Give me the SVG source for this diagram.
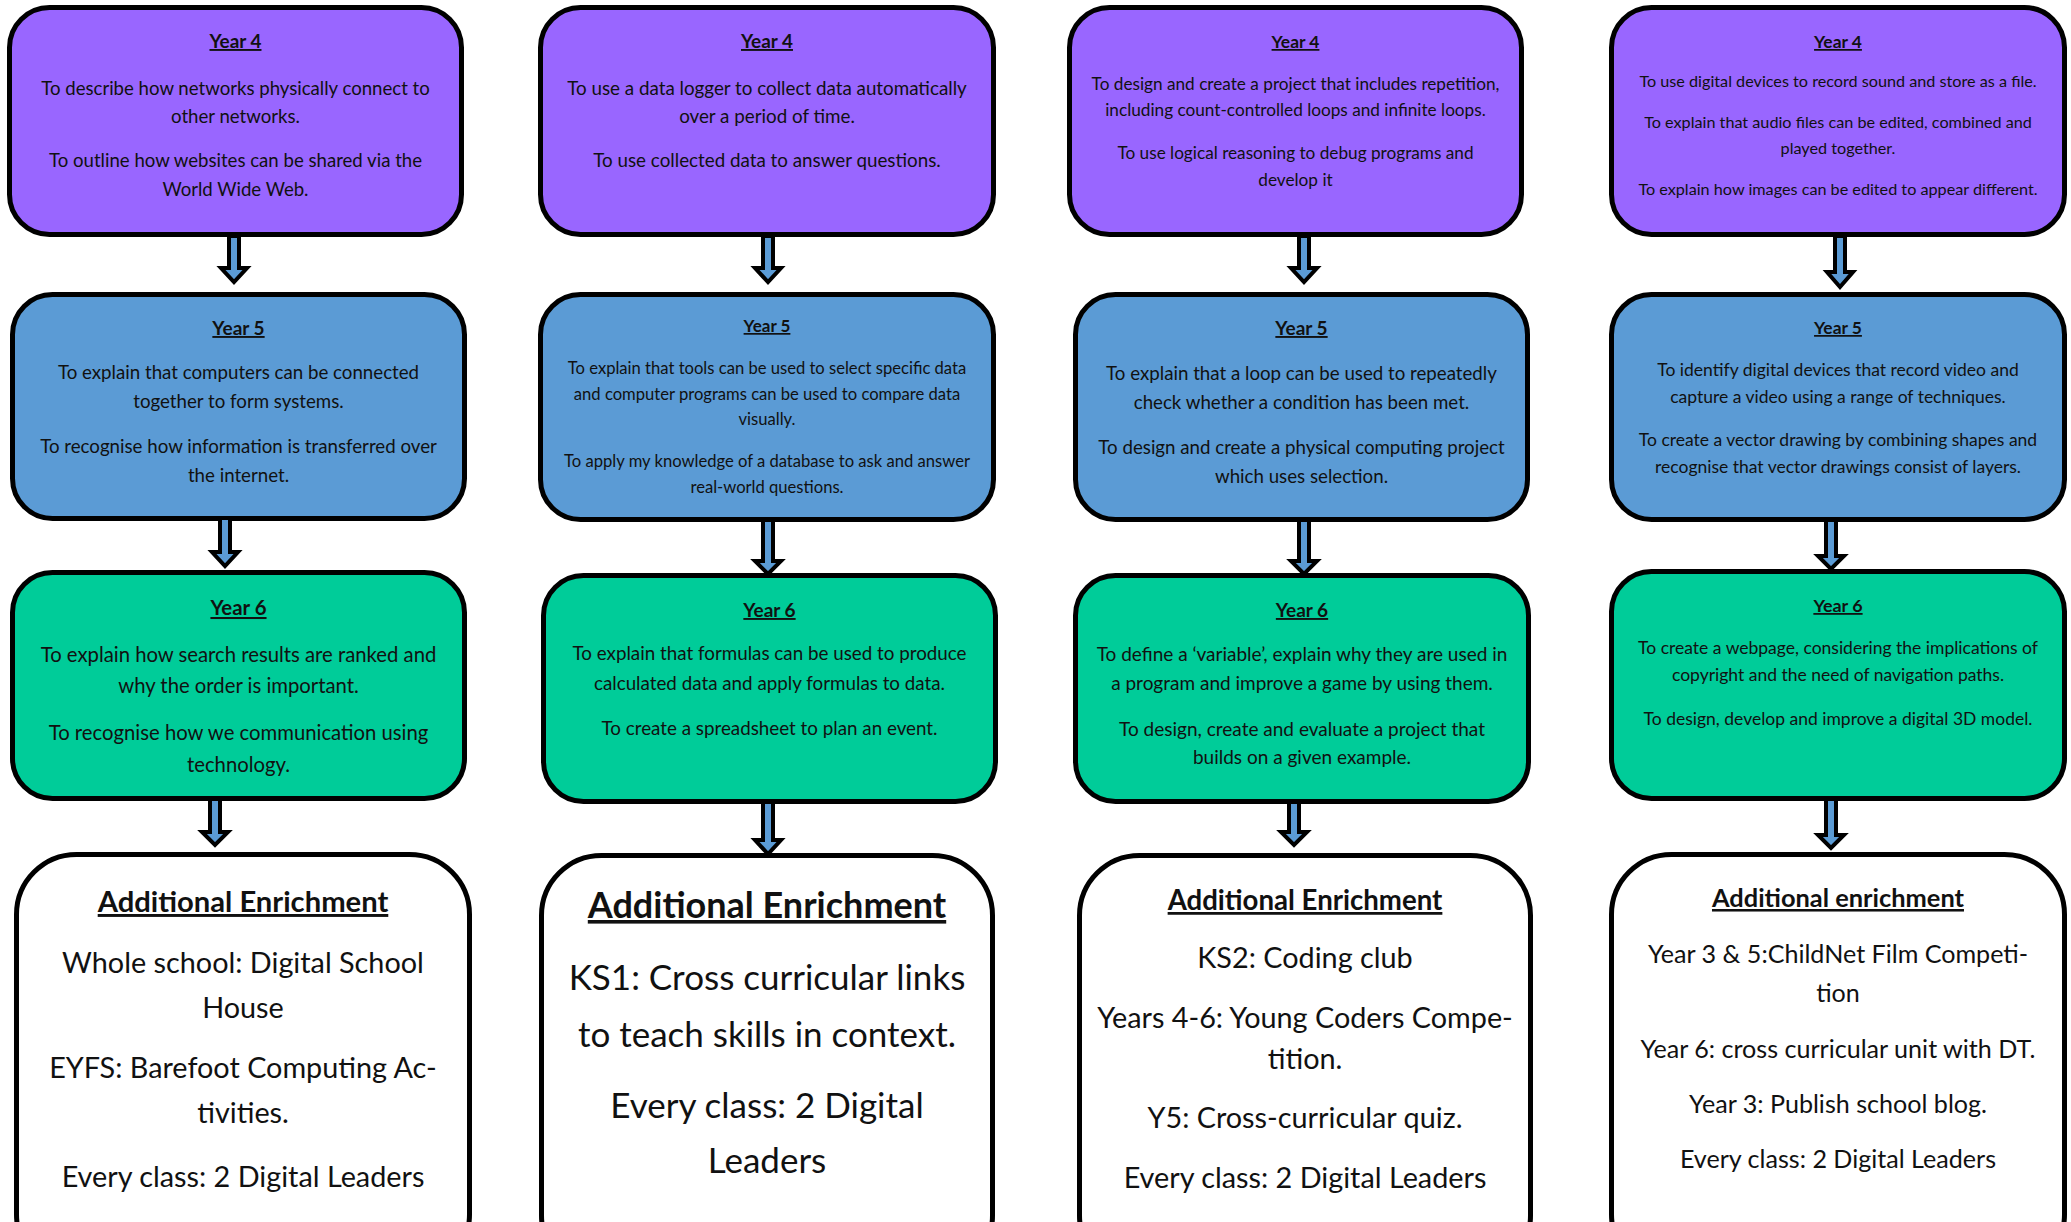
<svg xmlns="http://www.w3.org/2000/svg" width="2071" height="1222" viewBox="0 0 2071 1222">
<style>
.box{stroke:#000;stroke-width:5}
.y4{fill:#9966FF}
.y5{fill:#5B9BD5}
.y6{fill:#00CC99}
.en{fill:#FFFFFF}
text{font-family:Lato,"Liberation Sans",sans-serif;fill:#111;text-anchor:middle}
.h{font-weight:bold;text-decoration:underline}
.arr{fill:#5B9BD5;stroke:#000;stroke-width:4;stroke-linejoin:miter}
</style>
<g id="c1-y4">
<rect class="box y4" x="9.5" y="7.5" width="452" height="227" rx="40"/>
<text class="h" x="235.5" y="48" font-size="18.9">Year 4</text>
<g font-size="18.6"><text x="235.5" y="95">To describe how networks physically connect to</text>
<text x="235.5" y="123">other networks.</text>
<text x="235.5" y="167">To outline how websites can be shared via the</text>
<text x="235.5" y="196">World Wide Web.</text></g>
</g>
<g id="c2-y4">
<rect class="box y4" x="540.5" y="7.5" width="453" height="227" rx="40"/>
<text class="h" x="767" y="48" font-size="18.9">Year 4</text>
<g font-size="18.8"><text x="767" y="95">To use a data logger to collect data automatically</text>
<text x="767" y="123">over a period of time.</text>
<text x="767" y="167">To use collected data to answer questions.</text></g>
</g>
<g id="c3-y4">
<rect class="box y4" x="1069.5" y="7.5" width="452" height="227" rx="40"/>
<text class="h" x="1295.5" y="48" font-size="17.4">Year 4</text>
<g font-size="17.2"><text x="1295.5" y="90">To design and create a project that includes repetition,</text>
<text x="1295.5" y="116">including count-controlled loops and infinite loops.</text>
<text x="1295.5" y="159">To use logical reasoning to debug programs and</text>
<text x="1295.5" y="186">develop it</text></g>
</g>
<g id="c4-y4">
<rect class="box y4" x="1611.5" y="7.5" width="453" height="227" rx="40"/>
<text class="h" x="1838" y="48" font-size="17.4">Year 4</text>
<g font-size="16.2"><text x="1838" y="87">To use digital devices to record sound and store as a file.</text>
<text x="1838" y="128">To explain that audio files can be edited, combined and</text>
<text x="1838" y="154">played together.</text>
<text x="1838" y="195">To explain how images can be edited to appear different.</text></g>
</g>
<g id="c1-y5">
<rect class="box y5" x="12.5" y="294.5" width="452" height="224" rx="40"/>
<text class="h" x="238.5" y="335" font-size="19">Year 5</text>
<g font-size="18.7"><text x="238.5" y="379">To explain that computers can be connected</text>
<text x="238.5" y="408">together to form systems.</text>
<text x="238.5" y="453">To recognise how information is transferred over</text>
<text x="238.5" y="482">the internet.</text></g>
</g>
<g id="c2-y5">
<rect class="box y5" x="540.5" y="294.5" width="453" height="225" rx="40"/>
<text class="h" x="767" y="332" font-size="17">Year 5</text>
<g font-size="16.6"><text x="767" y="374">To explain that tools can be used to select specific data</text>
<text x="767" y="400">and computer programs can be used to compare data</text>
<text x="767" y="425">visually.</text>
<text x="767" y="467">To apply my knowledge of a database to ask and answer</text>
<text x="767" y="493">real-world questions.</text></g>
</g>
<g id="c3-y5">
<rect class="box y5" x="1075.5" y="294.5" width="452" height="225" rx="40"/>
<text class="h" x="1301.5" y="335" font-size="19">Year 5</text>
<g font-size="18.7"><text x="1301.5" y="380">To explain that a loop can be used to repeatedly</text>
<text x="1301.5" y="409">check whether a condition has been met.</text>
<text x="1301.5" y="454">To design and create a physical computing project</text>
<text x="1301.5" y="483">which uses selection.</text></g>
</g>
<g id="c4-y5">
<rect class="box y5" x="1611.5" y="294.5" width="453" height="225" rx="40"/>
<text class="h" x="1838" y="334" font-size="17.4">Year 5</text>
<g font-size="17.5"><text x="1838" y="376">To identify digital devices that record video and</text>
<text x="1838" y="403">capture a video using a range of techniques.</text>
<text x="1838" y="446">To create a vector drawing by combining shapes and</text>
<text x="1838" y="473">recognise that vector drawings consist of layers.</text></g>
</g>
<g id="c1-y6">
<rect class="box y6" x="12.5" y="572.5" width="452" height="226" rx="40"/>
<text class="h" x="238.5" y="615" font-size="20.4">Year 6</text>
<g font-size="20.3"><text x="238.5" y="662">To explain how search results are ranked and</text>
<text x="238.5" y="693">why the order is important.</text>
<text x="238.5" y="740">To recognise how we communication using</text>
<text x="238.5" y="772">technology.</text></g>
</g>
<g id="c2-y6">
<rect class="box y6" x="543.5" y="575.5" width="452" height="226" rx="40"/>
<text class="h" x="769.5" y="617" font-size="19">Year 6</text>
<g font-size="18.8"><text x="769.5" y="660">To explain that formulas can be used to produce</text>
<text x="769.5" y="690">calculated data and apply formulas to data.</text>
<text x="769.5" y="735">To create a spreadsheet to plan an event.</text></g>
</g>
<g id="c3-y6">
<rect class="box y6" x="1075.5" y="575.5" width="453" height="226" rx="40"/>
<text class="h" x="1302" y="617" font-size="19">Year 6</text>
<g font-size="19"><text x="1302" y="661">To define a ‘variable’, explain why they are used in</text>
<text x="1302" y="690">a program and improve a game by using them.</text>
<text x="1302" y="736">To design, create and evaluate a project that</text>
<text x="1302" y="764">builds on a given example.</text></g>
</g>
<g id="c4-y6">
<rect class="box y6" x="1611.5" y="571.5" width="453" height="227" rx="40"/>
<text class="h" x="1838" y="612" font-size="17.9">Year 6</text>
<g font-size="17.5"><text x="1838" y="654">To create a webpage, considering the implications of</text>
<text x="1838" y="681">copyright and the need of navigation paths.</text>
<text x="1838" y="725">To design, develop and improve a digital 3D model.</text></g>
</g>
<g id="c1-en">
<rect class="box en" x="16.5" y="854.5" width="453" height="420" rx="60"/>
<text class="h" x="243" y="912" font-size="29.2">Additional Enrichment</text>
<g font-size="28.8"><text x="243" y="973">Whole school: Digital School</text>
<text x="243" y="1018">House</text>
<text x="243" y="1078">EYFS: Barefoot Computing Ac-</text>
<text x="243" y="1123">tivities.</text>
<text x="243" y="1187">Every class: 2 Digital Leaders</text></g>
</g>
<g id="c2-en">
<rect class="box en" x="541.5" y="855.5" width="451" height="420" rx="60"/>
<text class="h" x="767" y="918" font-size="36">Additional Enrichment</text>
<g font-size="35"><text x="767" y="990">KS1: Cross curricular links</text>
<text x="767" y="1047">to teach skills in context.</text>
<text x="767" y="1118">Every class: 2 Digital</text>
<text x="767" y="1173">Leaders</text></g>
</g>
<g id="c3-en">
<rect class="box en" x="1079.5" y="855.5" width="451" height="420" rx="60"/>
<text class="h" x="1305" y="910" font-size="27.6">Additional Enrichment</text>
<g font-size="28.8"><text x="1305" y="968">KS2: Coding club</text>
<text x="1305" y="1028">Years 4-6: Young Coders Compe-</text>
<text x="1305" y="1069">tition.</text>
<text x="1305" y="1128">Y5: Cross-curricular quiz.</text>
<text x="1305" y="1188">Every class: 2 Digital Leaders</text></g>
</g>
<g id="c4-en">
<rect class="box en" x="1611.5" y="854.5" width="453" height="420" rx="60"/>
<text class="h" x="1838" y="907" font-size="25.4">Additional enrichment</text>
<g font-size="25.1"><text x="1838" y="963">Year 3 &amp; 5:ChildNet Film Competi-</text>
<text x="1838" y="1002">tion</text>
<text x="1838" y="1058">Year 6: cross curricular unit with DT.</text>
<text x="1838" y="1113">Year 3: Publish school blog.</text>
<text x="1838" y="1168">Every class: 2 Digital Leaders</text></g>
</g>
<g id="connectors">
<path class="arr" d="M229,236 H239 V268 H247 L234,282 L221,268 H229 Z"/>
<path class="arr" d="M220,518 H230 V552 H238 L225,566 L212,552 H220 Z"/>
<path class="arr" d="M210,799 H220 V832 H228 L215,845 L202,832 H210 Z"/>
<path class="arr" d="M763,236 H773 V268 H781 L768,282 L755,268 H763 Z"/>
<path class="arr" d="M763,520 H773 V561 H781 L768,574 L755,561 H763 Z"/>
<path class="arr" d="M763,802 H773 V840 H781 L768,854 L755,840 H763 Z"/>
<path class="arr" d="M1299,236 H1309 V268 H1317 L1304,282 L1291,268 H1299 Z"/>
<path class="arr" d="M1299,520 H1309 V561 H1317 L1304,574 L1291,561 H1299 Z"/>
<path class="arr" d="M1289,802 H1299 V832 H1307 L1294,845 L1281,832 H1289 Z"/>
<path class="arr" d="M1835,236 H1845 V272 H1853 L1840,287 L1827,272 H1835 Z"/>
<path class="arr" d="M1826,520 H1836 V556 H1844 L1831,569 L1818,556 H1826 Z"/>
<path class="arr" d="M1826,799 H1836 V835 H1844 L1831,848 L1818,835 H1826 Z"/>
</g>
</svg>
